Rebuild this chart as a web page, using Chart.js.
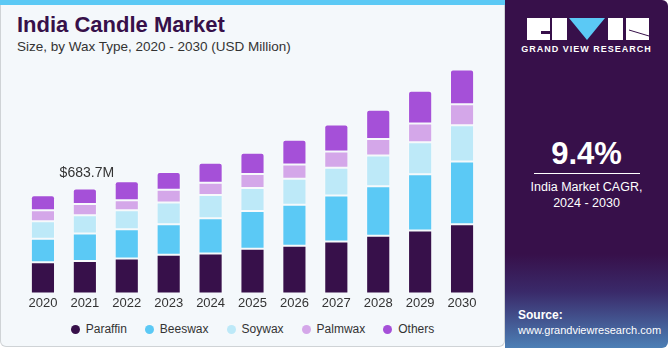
<!DOCTYPE html>
<html>
<head>
<meta charset="utf-8">
<script src="https://cdn.jsdelivr.net/npm/chart.js@4"></script>
<style>
    body { margin: 0; width: 670px; height: 350px; background: #ffffff; font-family: "Liberation Sans", Arial, sans-serif; overflow: hidden; }
    .card { position: absolute; left: 0; top: 0; width: 503px; height: 346px; background: #f4f8fb; border: 1px solid #cfd3d6; border-top: none; border-radius: 0 0 6px 6px; }
    .stripe { position: absolute; left: 0; top: 0; width: 505px; height: 5px; background: #5bc9f5; }
    .title { position: absolute; left: 17px; top: 12px; font-size: 22px; font-weight: bold; color: #37104a; }
    .subtitle { position: absolute; left: 17px; top: 39px; font-size: 13.5px; color: #333333; }
    .chartbox { position: absolute; left: 0; top: 55px; width: 505px; height: 258px; }
    .legend { position: absolute; left: 0; top: 322px; width: 505px; display: flex; justify-content: center; font-size: 12px; color: #333333; }
    .legend span.item { display: flex; align-items: center; margin: 0 9px; }
    .legend span.dot { display: inline-block; width: 9px; height: 9px; border-radius: 50%; margin-right: 6px; }
    .side { position: absolute; left: 505px; top: 0; width: 163px; height: 348px; border-radius: 0 6px 6px 0;
        background: linear-gradient(to bottom, #37104a 0%, #37104a 73%, #3a2a6a 84%, #4c7fb5 100%); }
    .brand { position: absolute; left: 0; width: 163px; top: 44px; text-align: center; color: #fff; font-size: 9px; font-weight: bold; letter-spacing: 1px; }
    .cagr { position: absolute; left: 0; width: 163px; top: 136px; text-align: center; color: #fff; font-size: 31px; font-weight: bold; }
    .rule { position: absolute; left: 29px; width: 106px; top: 173px; height: 1px; background: #ffffff; }
    .cagrtxt { position: absolute; left: 0; width: 163px; top: 179px; text-align: center; color: #fff; font-size: 12.5px; line-height: 16px; }
    .src { position: absolute; left: 13px; top: 308px; color: #fff; font-size: 11px; line-height: 15px; }
    .src b { font-size: 12px; }
</style>
</head>
<body>
<div class="card"></div>
<div class="stripe"></div>
<div class="title">India Candle Market</div>
<div class="subtitle">Size, by Wax Type, 2020 - 2030 (USD Million)</div>
<div class="chartbox"><canvas id="myChart"></canvas></div>
<div class="legend" id="legend"></div>
<div class="side">
    <svg width="163" height="45" style="position:absolute;left:0;top:0">
        <rect x="22" y="18" width="23" height="22" fill="#ffffff"/>
        <path d="M36 31 H45 V34 H36 Z" fill="#37104a"/>
        <polygon points="64,18 100,18 82,40" fill="#5bc9f5"/>
        <rect x="47" y="18" width="15" height="22" fill="#ffffff"/>
        <rect x="103" y="18" width="15" height="22" fill="#ffffff"/>
        <rect x="121" y="18" width="23" height="22" fill="#ffffff"/>
        <line x1="124" y1="30" x2="144" y2="36" stroke="#37104a" stroke-width="1"/>
    </svg>
    <div class="brand">GRAND VIEW RESEARCH</div>
    <div class="cagr">9.4%</div>
    <div class="rule"></div>
    <div class="cagrtxt">India Market CAGR,<br>2024 - 2030</div>
    <div class="src"><b>Source:</b><br>www.grandviewresearch.com</div>
</div>

<script>
// data (USD Million)
const years = ["2020", "2021", "2022", "2023", "2024", "2025", "2026", "2027", "2028", "2029", "2030"];
const paraffin = [202, 211, 228, 252, 260, 291, 310, 338, 376, 410, 451];
const beeswax = [154, 179, 189, 199, 230, 245, 267, 300, 321, 366, 408];
const soywax = [113, 119.5, 124, 141, 150, 150, 169, 180, 200, 208, 236];
const palmwax = [72, 72, 65, 83, 81, 91, 93, 106, 108, 122, 137];
const others = [98, 102.2, 124, 115, 130, 139, 161, 176, 191, 213, 226];
const seriesNames = ["Paraffin", "Beeswax", "Soywax", "Palmwax", "Others"];
const totalLabel = "$683.7M";
const labelIndex = 1;

const colors = ["#37104a", "#5bc9f5", "#bde9f8", "#d4a7e9", "#a550d8"];

function makeSet(label, data, i) {
    return {
        label: label,
        data: data,
        backgroundColor: colors[i],
        borderColor: "rgba(255,255,255,0.3)",
        borderWidth: 1,
        borderSkipped: false,
        borderRadius: i === 4 ? { topLeft: 3, topRight: 3 } : 0,
        barPercentage: 0.6,
        categoryPercentage: 0.96,
    };
}

// label above one stacked bar
const totalPlugin = {
    id: "totalPlugin",
    afterDatasetsDraw(chart) {
        const meta = chart.getDatasetMeta(chart.data.datasets.length - 1);
        const bar = meta.data[labelIndex];
        const ctx = chart.ctx;
        ctx.save();
        ctx.font = "14px 'Liberation Sans', Arial, sans-serif";
        ctx.fillStyle = "#333333";
        ctx.textAlign = "center";
        ctx.textBaseline = "alphabetic";
        ctx.fillText(totalLabel, bar.x + 2, bar.y - 11);
        ctx.restore();
    },
};

// legend built from the series names
const legendEl = document.getElementById("legend");
seriesNames.forEach(function (name, i) {
    const item = document.createElement("span");
    item.className = "item";
    item.innerHTML = '<span class="dot" style="background:' + colors[i] + '"></span>' + name;
    legendEl.appendChild(item);
});

const ctx = document.getElementById("myChart");
new Chart(ctx, {
    type: "bar",
    data: {
        labels: years,
        datasets: [
            makeSet(seriesNames[0], paraffin, 0),
            makeSet(seriesNames[1], beeswax, 1),
            makeSet(seriesNames[2], soywax, 2),
            makeSet(seriesNames[3], palmwax, 3),
            makeSet(seriesNames[4], others, 4),
        ],
    },
    options: {
        responsive: true,
        maintainAspectRatio: false,
        animation: false,
        layout: { padding: { left: 22, right: 22, top: 8, bottom: 0 } },
        scales: {
            x: {
                stacked: true,
                grid: { display: false, drawTicks: false },
                border: { display: false },
                ticks: {
                    color: "#333333",
                    padding: 2,
                    font: { size: 13, family: "'Liberation Sans', Arial, sans-serif" },
                },
            },
            y: {
                stacked: true,
                display: false,
                min: 0,
                max: 1500,
            },
        },
        plugins: {
            legend: { display: false },
            tooltip: { enabled: false },
        },
    },
    plugins: [totalPlugin],
});
</script>
</body>
</html>
